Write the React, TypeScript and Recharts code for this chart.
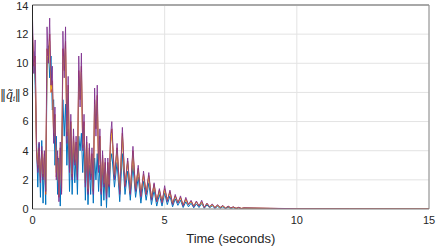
import React from "react";
import { LineChart, Line, XAxis, YAxis, CartesianGrid, ReferenceLine } from "recharts";

const time = [
  0, 0.05, 0.1, 0.15, 0.2, 0.25, 0.3, 0.35, 0.4, 0.45,
  0.5, 0.55, 0.6, 0.65, 0.7, 0.75, 0.8, 0.85, 0.9, 0.95,
  1.0, 1.05, 1.1, 1.15, 1.2, 1.25, 1.3, 1.35, 1.4, 1.45,
  1.5, 1.55, 1.6, 1.65, 1.7, 1.75, 1.8, 1.85, 1.9, 1.95,
  2.0, 2.05, 2.1, 2.15, 2.2, 2.25, 2.3, 2.35, 2.4, 2.45,
  2.5, 2.55, 2.6, 2.65, 2.7, 2.75, 2.8, 2.85, 2.9, 2.95,
  3.0,
  3.1, 3.2, 3.3, 3.4, 3.5, 3.6, 3.7, 3.8, 3.9, 4.0,
  4.1, 4.2, 4.3, 4.4, 4.5, 4.6, 4.7, 4.8, 4.9, 5.0,
  5.1, 5.2, 5.3, 5.4, 5.5, 5.6, 5.7, 5.8, 5.9, 6.0,
  6.1, 6.2, 6.3, 6.4, 6.5, 6.6, 6.7, 6.8, 6.9, 7.0,
  7.1, 7.2, 7.3, 7.4, 7.5, 7.6, 7.7, 7.8, 7.9, 8.0,
  9, 10, 12, 15,
];

const blueSeries = [
  10.5, 10.8, 8.5, 4.8, 1.5, 4.5, 0.8, 4.7, 0.4, 3.5,
  0.3, 9.5, 11.2, 9.0, 10.5, 6.8, 7.5, 3.0, 5.0, 1.0,
  3.5, 0.2, 3.8, 7.5, 5.0, 7.2, 3.0, 5.5, 1.2, 4.8,
  1.0, 4.2, 1.8, 3.8, 1.0, 5.0, 4.0, 5.2, 2.5, 4.5,
  0.6, 3.5, 0.3, 3.0, 1.0, 3.2, 0.4, 3.5, 2.0, 3.8,
  1.2, 3.0, 0.2, 2.8, 0.6, 2.6, 0.1, 2.5, 0.8, 3.2,
  3.8,
  1.5, 3.2, 0.5, 3.8, 1.0, 2.6, 0.6, 3.0, 0.8, 2.2,
  0.4, 1.9, 0.6, 1.8, 0.3, 1.3, 0.2, 1.0, 0.2, 1.1,
  0.3, 0.9, 0.15, 0.7, 0.25, 0.6, 0.1, 0.5, 0.15, 0.4,
  0.08, 0.35, 0.1, 0.38, 0.05, 0.28, 0.08, 0.22, 0.04, 0.18,
  0.05, 0.15, 0.03, 0.12, 0.04, 0.09, 0.02, 0.07, 0.02, 0.05,
  0.02, 0.01, 0.005, 0,
];

const orangeSeries = [
  12.0, 9.8, 10.5, 4.0, 2.8, 4.2, 2.0, 4.0, 2.2, 3.8,
  1.0, 11.0, 10.2, 12.0, 8.0, 8.8, 5.0, 6.5, 2.2, 3.6,
  0.8, 4.2, 1.2, 11.0, 9.5, 11.5, 5.0, 8.5, 2.8, 6.0,
  2.2, 5.0, 3.2, 4.6, 2.2, 9.5, 7.5, 9.8, 4.2, 6.0,
  1.8, 4.6, 1.2, 4.2, 2.2, 3.8, 1.2, 7.5, 5.5, 7.8,
  2.8, 5.0, 1.2, 3.7, 1.7, 3.2, 0.9, 3.2, 1.6, 4.6,
  5.5,
  2.2, 4.2, 1.2, 5.2, 1.6, 3.3, 1.1, 4.0, 1.3, 2.8,
  0.9, 2.4, 1.0, 2.3, 0.7, 1.7, 0.5, 1.3, 0.5, 1.4,
  0.6, 1.2, 0.35, 0.9, 0.45, 0.8, 0.25, 0.7, 0.3, 0.55,
  0.2, 0.5, 0.2, 0.5, 0.12, 0.38, 0.15, 0.3, 0.1, 0.26,
  0.1, 0.22, 0.06, 0.18, 0.08, 0.13, 0.05, 0.1, 0.04, 0.07,
  0.04, 0.02, 0.01, 0,
];

const yellowSeries = [
  11.5, 10.0, 10.0, 4.4, 3.0, 4.0, 2.3, 3.8, 2.4, 3.6,
  1.3, 10.5, 10.4, 11.5, 8.2, 8.5, 5.2, 6.2, 2.5, 3.4,
  1.0, 4.0, 1.4, 10.5, 9.8, 11.0, 5.3, 8.2, 3.0, 5.8,
  2.4, 4.8, 3.4, 4.4, 2.4, 9.0, 7.8, 9.4, 4.4, 5.7,
  2.0, 4.4, 1.4, 4.0, 2.4, 3.6, 1.4, 7.2, 5.7, 7.4,
  3.0, 4.8, 1.4, 3.5, 1.8, 3.0, 1.0, 3.0, 1.7, 4.4,
  5.2,
  2.3, 4.0, 1.3, 5.0, 1.7, 3.2, 1.2, 3.8, 1.4, 2.7,
  1.0, 2.3, 1.1, 2.2, 0.8, 1.6, 0.6, 1.2, 0.5, 1.3,
  0.65, 1.1, 0.4, 0.85, 0.45, 0.75, 0.28, 0.65, 0.3, 0.5,
  0.22, 0.48, 0.22, 0.45, 0.13, 0.35, 0.15, 0.28, 0.1, 0.24,
  0.1, 0.2, 0.07, 0.17, 0.08, 0.12, 0.05, 0.09, 0.04, 0.07,
  0.04, 0.02, 0.01, 0,
];

const purpleSeries = [
  13.0, 9.3, 11.6, 4.2, 2.5, 4.6, 1.8, 4.3, 2.0, 4.0,
  1.2, 12.5, 10.0, 13.1, 8.5, 9.8, 4.5, 7.0, 2.0, 4.0,
  0.5, 4.6, 1.0, 12.2, 9.0, 12.5, 4.5, 9.1, 2.5, 6.5,
  2.0, 5.5, 3.0, 5.0, 2.0, 10.5, 7.0, 10.7, 4.0, 6.5,
  1.5, 5.0, 1.0, 4.5, 2.0, 4.2, 1.0, 8.3, 5.0, 8.5,
  2.5, 5.5, 1.0, 4.0, 1.5, 3.5, 0.7, 3.5, 1.5, 5.0,
  6.0,
  2.0, 4.5, 1.0, 5.6, 1.5, 3.5, 1.0, 4.3, 1.2, 3.0,
  0.8, 2.6, 1.0, 2.5, 0.6, 1.8, 0.5, 1.4, 0.4, 1.6,
  0.5, 1.3, 0.3, 1.0, 0.4, 0.9, 0.2, 0.8, 0.3, 0.6,
  0.15, 0.55, 0.2, 0.6, 0.1, 0.4, 0.15, 0.35, 0.08, 0.3,
  0.1, 0.25, 0.05, 0.2, 0.08, 0.15, 0.04, 0.12, 0.04, 0.08,
  0.05, 0.02, 0.01, 0,
];

const xTicks = [0, 5, 10, 15];
const yTicks = [0, 2, 4, 6, 8, 10, 12, 14];

const data = time.map((t, i) => ({
  t,
  blue: blueSeries[i],
  orange: orangeSeries[i],
  yellow: yellowSeries[i],
  purple: purpleSeries[i],
}));

const font = "'Liberation Sans', Arial, Helvetica, sans-serif";
const tickStyle = { fontSize: 11, fill: "#262626", fontFamily: font };

export default function App() {
  return (
    <div style={{ position: "absolute", left: 0, top: 0, width: 436, height: 247, background: "#fff" }}>
      <LineChart width={436} height={247} data={data} margin={{ top: 5, right: 7, bottom: 0, left: 0 }}>
        <CartesianGrid stroke="#e3e3e3" strokeWidth={1} />
        <XAxis
          dataKey="t"
          type="number"
          domain={[0, 15]}
          ticks={xTicks}
          height={38}
          tickSize={0}
          tickMargin={7}
          tick={tickStyle}
          axisLine={{ stroke: "#8c8c8c" }}
          allowDataOverflow
          label={{ value: "Time (seconds)", position: "insideBottom", offset: 4, style: { fontSize: 13, fill: "#262626", fontFamily: font } }}
        />
        <YAxis
          type="number"
          domain={[0, 14]}
          ticks={yTicks}
          width={32.5}
          tickSize={0}
          tickMargin={4}
          tick={tickStyle}
          axisLine={{ stroke: "#262626" }}
          allowDataOverflow
        />
        <ReferenceLine y={14} stroke="#a8a8a8" strokeWidth={2} />
        <ReferenceLine x={15} stroke="#8c8c8c" />
        <Line type="linear" dataKey="blue" stroke="#0072BD" strokeWidth={1} dot={false} isAnimationActive={false} />
        <Line type="linear" dataKey="orange" stroke="#D95319" strokeWidth={1} dot={false} isAnimationActive={false} />
        <Line type="linear" dataKey="yellow" stroke="#EDB120" strokeWidth={1} dot={false} isAnimationActive={false} />
        <Line type="linear" dataKey="purple" stroke="#7E2F8E" strokeWidth={1} strokeOpacity={0.85} dot={false} isAnimationActive={false} />
      </LineChart>
      <div
        style={{
          position: "absolute",
          left: 0,
          top: 86,
          fontFamily: "'DejaVu Serif', serif",
          fontSize: 12,
          letterSpacing: "-0.5px",
          color: "#262626",
          whiteSpace: "nowrap",
          lineHeight: "18px",
        }}
      >
        ‖<i>q&#771;</i><sub style={{ fontSize: 8, fontStyle: "italic", verticalAlign: "-2px" }}>i</sub>‖
      </div>
    </div>
  );
}
